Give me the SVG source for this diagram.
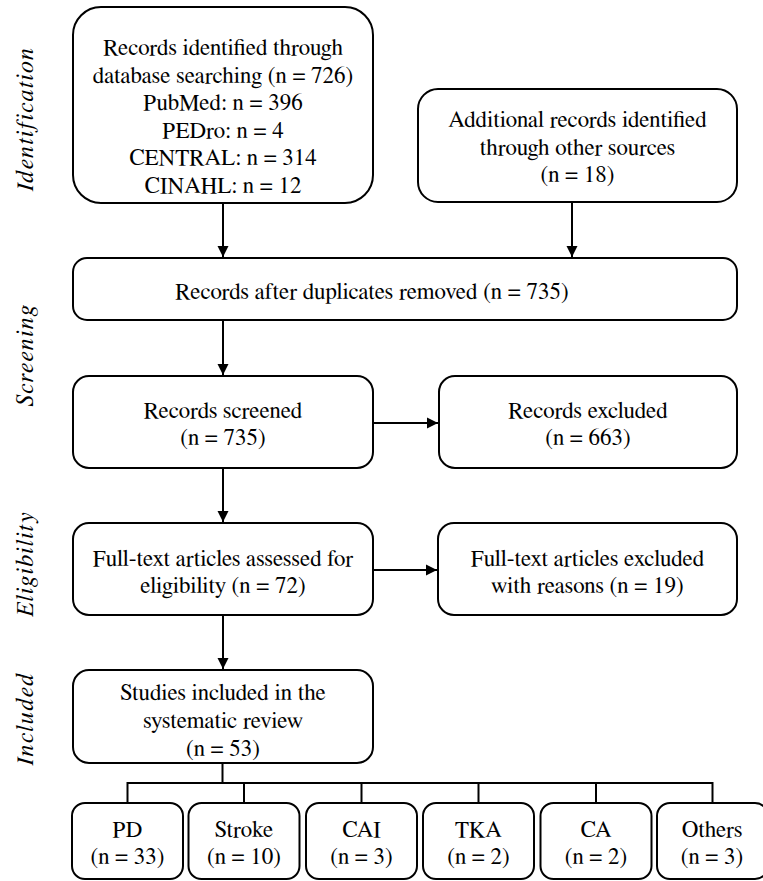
<svg xmlns="http://www.w3.org/2000/svg" width="763" height="881" viewBox="0 0 763 881">
<style>
.box{fill:#fff;stroke:#000;stroke-width:2}
.t{font-family:FreeSerif,'Liberation Serif','Times New Roman',serif;font-size:23px;fill:#000;text-anchor:middle}
.side{font-family:FreeSerif,'Liberation Serif','Times New Roman',serif;font-size:24px;font-style:italic;letter-spacing:1.6px;fill:#000;text-anchor:middle}
.ln{stroke:#000;stroke-width:2;fill:none}
</style>
<defs>
<marker id="ah" markerWidth="12" markerHeight="12" refX="11" refY="6" orient="auto" markerUnits="userSpaceOnUse">
<path d="M0,0.5 L11,6 L0,11.5 Z" fill="#000"/>
</marker>
</defs>
<g id="labels">
<text class="side" transform="translate(33,119) rotate(-90)">Identification</text>
<text class="side" transform="translate(33,355) rotate(-90)">Screening</text>
<text class="side" transform="translate(33,564) rotate(-90)">Eligibility</text>
<text class="side" transform="translate(33,719) rotate(-90)">Included</text>
</g>
<g id="connectors">
<line class="ln" x1="223" y1="203" x2="223" y2="257" marker-end="url(#ah)"/>
<line class="ln" x1="572" y1="202" x2="572" y2="257" marker-end="url(#ah)"/>
<line class="ln" x1="223" y1="320" x2="223" y2="375" marker-end="url(#ah)"/>
<line class="ln" x1="373" y1="423" x2="438" y2="423" marker-end="url(#ah)"/>
<line class="ln" x1="223" y1="468" x2="223" y2="522" marker-end="url(#ah)"/>
<line class="ln" x1="373" y1="570" x2="437" y2="570" marker-end="url(#ah)"/>
<line class="ln" x1="223" y1="615" x2="223" y2="669" marker-end="url(#ah)"/>
<path class="ln" d="M222.5,763 V783 M127.5,783 H712.5 M127.5,782 V803 M244,783 V803 M361.5,783 V803 M478.5,783 V803 M596,783 V803 M712.5,782 V803"/>
</g>
<g id="n1">
<rect class="box" x="73" y="7" width="300" height="196" rx="28"/>
<text class="t" x="223" y="55">Records identified through</text>
<text class="t" x="223" y="82.5">database searching (n = 726)</text>
<text class="t" x="223" y="110">PubMed: n = 396</text>
<text class="t" x="223" y="137.5">PEDro: n = 4</text>
<text class="t" x="223" y="165">CENTRAL: n = 314</text>
<text class="t" x="223" y="192.5">CINAHL: n = 12</text>
</g>
<g id="n2">
<rect class="box" x="418" y="89" width="319" height="113" rx="20"/>
<text class="t" x="577.5" y="127">Additional records identified</text>
<text class="t" x="577.5" y="154.5">through other sources</text>
<text class="t" x="577.5" y="182">(n = 18)</text>
</g>
<g id="n3">
<rect class="box" x="73" y="258" width="664" height="62" rx="14"/>
<text class="t" x="372" y="299">Records after duplicates removed (n = 735)</text>
</g>
<g id="n4">
<rect class="box" x="73" y="376" width="300" height="92" rx="16"/>
<text class="t" x="223" y="418">Records screened</text>
<text class="t" x="223" y="445">(n = 735)</text>
</g>
<g id="n5">
<rect class="box" x="439" y="376" width="298" height="92" rx="16"/>
<text class="t" x="588" y="418">Records excluded</text>
<text class="t" x="588" y="445">(n = 663)</text>
</g>
<g id="n6">
<rect class="box" x="73" y="523" width="300" height="92" rx="16"/>
<text class="t" x="223" y="566">Full-text articles assessed for</text>
<text class="t" x="223" y="593">eligibility (n = 72)</text>
</g>
<g id="n7">
<rect class="box" x="438" y="523" width="299" height="92" rx="16"/>
<text class="t" x="587.5" y="566">Full-text articles excluded</text>
<text class="t" x="587.5" y="593">with reasons (n = 19)</text>
</g>
<g id="n8">
<rect class="box" x="73" y="670" width="300" height="93" rx="16"/>
<text class="t" x="223" y="700">Studies included in the</text>
<text class="t" x="223" y="728">systematic review</text>
<text class="t" x="223" y="756">(n = 53)</text>
</g>
<g id="n9">
<rect class="box" x="72" y="803" width="111" height="76" rx="13"/>
<text class="t" x="127.5" y="837">PD</text>
<text class="t" x="127.5" y="864">(n = 33)</text>
</g>
<g id="n10">
<rect class="box" x="188.5" y="803" width="111" height="76" rx="13"/>
<text class="t" x="244" y="837">Stroke</text>
<text class="t" x="244" y="864">(n = 10)</text>
</g>
<g id="n11">
<rect class="box" x="306" y="803" width="111" height="76" rx="13"/>
<text class="t" x="361.5" y="837">CAI</text>
<text class="t" x="361.5" y="864">(n = 3)</text>
</g>
<g id="n12">
<rect class="box" x="423" y="803" width="111" height="76" rx="13"/>
<text class="t" x="478.5" y="837">TKA</text>
<text class="t" x="478.5" y="864">(n = 2)</text>
</g>
<g id="n13">
<rect class="box" x="540.5" y="803" width="111" height="76" rx="13"/>
<text class="t" x="596" y="837">CA</text>
<text class="t" x="596" y="864">(n = 2)</text>
</g>
<g id="n14">
<rect class="box" x="657" y="803" width="111" height="76" rx="13"/>
<text class="t" x="712" y="837">Others</text>
<text class="t" x="712" y="864">(n = 3)</text>
</g>
</svg>
